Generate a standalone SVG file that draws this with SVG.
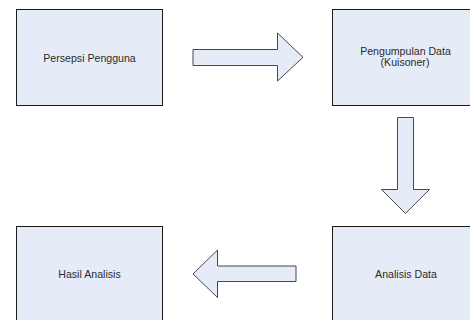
<svg xmlns="http://www.w3.org/2000/svg" width="470" height="320" viewBox="0 0 470 320">
  <style>
    .box { fill: #E6ECF7; stroke: #1a1a1a; stroke-width: 1; }
    .arrow { fill: #E6ECF7; stroke: #333333; stroke-width: 0.9; stroke-linejoin: miter; }
    .label { font-family: "Liberation Sans", Arial, sans-serif; font-size: 10.6px; fill: #2b2b2b; text-anchor: middle; }
  </style>
  <rect width="470" height="320" fill="#ffffff"/>
  <g id="persepsi-pengguna">
    <rect class="box" x="16.5" y="9.5" width="146" height="96"/>
    <text class="label" x="89.5" y="61.5">Persepsi Pengguna</text>
  </g>
  <g id="pengumpulan-data">
    <rect class="box" x="332.5" y="9.5" width="146" height="96"/>
    <text class="label" x="405.5" y="54.5">Pengumpulan Data</text>
    <text class="label" x="405" y="66">(Kuisoner)</text>
  </g>
  <g id="analisis-data">
    <rect class="box" x="332.5" y="226.5" width="146" height="96"/>
    <text class="label" x="406" y="277.5">Analisis Data</text>
  </g>
  <g id="hasil-analisis">
    <rect class="box" x="16.5" y="226.5" width="146" height="96"/>
    <text class="label" x="89.5" y="277.5">Hasil Analisis</text>
  </g>
  <g id="connectors">
    <polygon class="arrow" points="193,49.5 277.5,49.5 277.5,33 303,57.3 277.5,81 277.5,65.5 193,65.5"/>
    <polygon class="arrow" points="397.5,117.5 413.5,117.5 413.5,189.5 429.5,189.5 405.5,213.5 381.5,189.5 397.5,189.5"/>
    <polygon class="arrow" points="296,266 217.5,266 217.5,250 193,274 217.5,297.5 217.5,281.5 296,281.5"/>
  </g>
</svg>
